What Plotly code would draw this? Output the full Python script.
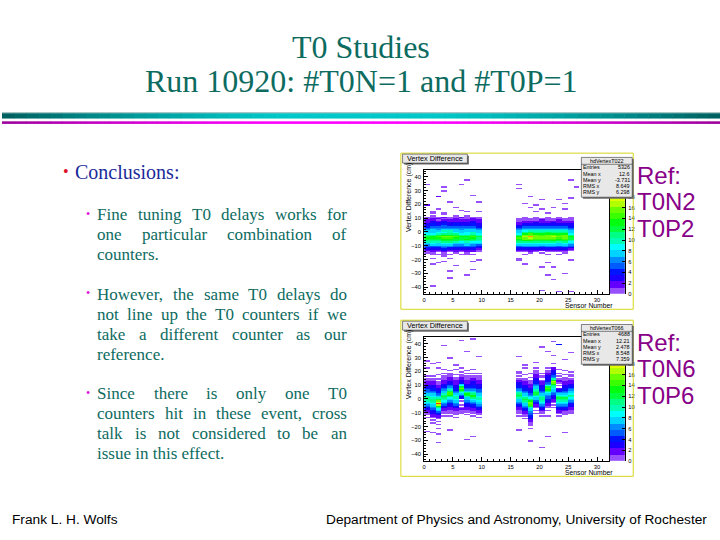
import colorsys
import numpy as np
import plotly.graph_objects as go

W, H = 720, 540

# ---------------- data ----------------
SENSOR_BINS = 32           # x axis: sensor number 0..32, one bin per sensor
Y_LO, Y_HI = -45, 45       # y axis: vertex difference, 1 cm bins
Z_MAX = 23                 # top of colour scale
N_LEVELS = 20              # ROOT colour contours
LEVEL_CODE = ".123456789abcdefghijklmn"   # '.'=0, '1'..'9', 'a'=10 ... 'n'=23

CORE_SENSORS = [0, 1, 2, 3, 4, 5, 6, 7, 8, 9, 16, 17, 18, 19, 20, 21, 22, 23, 24, 25]

# Ref T0N2/T0P2 : per-sensor column, rows from y=12 cm downward (1 cm per char)
T022_CORE_TOP = 12
T022_CORE = [
    "..112223" "3456789b" "cdcba865" "43211...",
    ".1122334" "4567889b" "ddcba975" "432211..",
    "..121233" "456689ac" "edcba875" "4321.1..",
    "1.212334" "5567a9bd" "fedcb976" "5432111.",
    "..112233" "4567aabd" "gedcb976" "4321.1..",
    ".1122234" "456789bc" "edcca865" "43221...",
    "..212233" "4566789b" "dccb9865" "4321.1..",
    ".1112233" "4567899b" "dcdba875" "432211..",
    "..122334" "45678aac" "edcb9865" "4322.1..",
    "..112223" "3456789a" "cbba9754" "3211....",
    "...11122" "3456789b" "dedcb975" "4321....",
    "..111223" "45679bdf" "hgfdb976" "4321.1..",
    "...11223" "4568acef" "khfdb976" "43221...",
    "..111233" "4568abdf" "gfecb986" "4321....",
    "...12223" "4567abde" "gfecb975" "432.1...",
    "..111223" "4567acdf" "ggecb976" "4321.1..",
    "...11233" "4568abdf" "hfedb986" "4321....",
    "..112223" "4567abde" "fedca875" "4321.1..",
    "...11223" "4567abdf" "gfecb976" "43211...",
    "..111223" "3456789b" "dcca9865" "321.....",
]
T022_SP_SENSOR = [0, 0, 1, 1, 1, 1, 2, 2, 3, 3, 3, 4, 4, 5, 5, 6, 7, 7, 7, 8, 8, 8, 9, 4, 1, 3, 6, 9, 4, 9, 2,
                  16, 16, 25, 18, 17, 20, 23, 25, 22, 24, 18, 20, 19, 21, 16, 21, 17, 20, 22, 21, 22, 24, 20, 23,
                  25, 19, 24, 16, 25, 26]
T022_SP_Y = [34, 19, 14, -20, -24, -40, 25, 16, 32, 29, -22, -29, -34, 17, -25, 34, 37, 14, -32, 26, -22, -28,
             21, 21, 13, 13, 15, 14, -20, -21, -23,
             34, 31, 37, 25, 20, 23, 23, 24, 17, 16, 17, 16, 14, 13, -21, -23, -24, -26, -26, -32, -35, -31,
             -43, -44, -44, 19, 20, -20, -21, 32]
T022_SP_N = [1, 2, 1, 1, 1, 1, 2, 1, 1, 1, 1, 1, 1, 1, 1, 1, 1, 1, 1, 1, 1, 1, 1, 1, 1, 1, 1, 1, 1, 1, 1,
             1, 1, 1, 1, 1, 1, 1, 1, 1, 1, 1, 1, 1, 1, 1, 1, 1, 1, 1, 1, 1, 1, 1, 1, 1, 1, 1, 1, 1, 1]

# Ref T0N6/T0P6 : rows from y=22 cm downward
T066_CORE_TOP = 22
T066_CORE = [
    "1.....1.112" "2233455678a" "bba97654322" "11.1.......",
    "......1.112" "22334456789" "abba9876543" "3221.1.1...",
    "1....1..1.1" "11223344568" "acfimhdb975" "43221.1.1..",
    ".1..1.11122" "23345678abc" "ba976543221" "1.1........",
    "..1.1112223" "34568aceedb" "97654332211" "1.1........",
    ".1...1.1122" "2233445679a" "a9876543221" "11.1.......",
    "1..1.112233" "479cfdb9754" "3.1..1.1211" "1..........",
    "..1.1.11122" "2334568bdca" "87654332211" ".1.........",
    ".1..1.11223" "3344567abdd" "b9865433221" "1.1........",
    "....1.11122" "23334556789" "aa987654322" "11.1.......",
    "...11.1.122" "3344568abcb" "a8765432211" "1.1........",
    "1....1..112" "22334456789" "bcba8765432" "211.1......",
    "....1..1.11" "12223344567" "9bdfgeca876" "5544322111.",
    "1.111222334" "45678abccb9" "87543221.1." "1..........",
    "....1.11.12" "2233445678a" "bba98654321" "1.1........",
    "1.112233344" "569cedb9765" "54332211.1." "..1........",
    "22334456adh" "fdba9876543" "3221.1.1..." "...........",
    ".1..1.1.122" "1.1.234689b" "cba98654322" "1.1........",
    "..1..1.1112" "2233445679a" "cba98654321" "11.........",
    "...1.11.122" "233456789ba" "98654332211" "1..........",
]
T066_SP_SENSOR = [3, 4, 2, 6, 8, 1, 0, 5, 9, 7, 2, 2, 2, 7, 1, 4, 8, 0,
                  20, 22, 23, 21, 22, 24, 17, 16, 25, 18, 20, 18, 16, 24, 21, 19, 22]
T066_SP_Y = [38, 29, 26, 42, 43, 25, 27, 24, 30, 34, -22, -26, -32, -30, -25, -23, -28, -24,
             37, 41, 39, 34, 31, 28, 24, 30, 33, -31, -36, -22, -23, -25, -28, 26, 25]
T066_SP_N = [1, 1, 1, 1, 1, 1, 1, 1, 1, 1, 1, 1, 1, 1, 1, 1, 1, 1,
             1, 1, 4, 1, 1, 1, 1, 1, 1, 1, 1, 1, 1, 1, 1, 1, 1]

X_TICKS = [0, 5, 10, 15, 20, 25, 30]
Y_TICKS = [-40, -30, -20, -10, 0, 10, 20, 30, 40]
Z_TICKS = [0, 2, 4, 6, 8, 10, 12, 14, 16, 18]

HIST_TITLE = "Vertex Difference"
X_TITLE = "Sensor Number"
Y_TITLE = "Vertex Difference (cm)"
STAT_LABELS = ["Entries", "Mean x", "Mean y", "RMS x", "RMS y"]
T022_NAME = "hdVertexT022"
T022_STATS = ["5326", "12.6", "-3.731", "8.649", "6.298"]
T066_NAME = "hdVertexT066"
T066_STATS = ["4688", "12.21", "2.478", "8.548", "7.359"]

TITLE_LINES = ["T0 Studies", "Run 10920: #T0N=1 and #T0P=1"]
MAIN_BULLET = "Conclusions:"
PARAGRAPHS = [
    ["Fine tuning T0 delays works for", "one particular combination of", "counters."],
    ["However, the same T0 delays do", "not line up the T0 counters if we",
     "take a different counter as our", "reference."],
    ["Since there is only one T0", "counters hit in these event, cross",
     "talk is not considered to be an", "issue in this effect."],
]
REF1 = ["Ref:", "T0N2", "T0P2"]
REF2 = ["Ref:", "T0N6", "T0P6"]
FOOT_LEFT = "Frank L. H. Wolfs"
FOOT_RIGHT = "Department of Physics and Astronomy, University of Rochester"

# ---------------- helpers ----------------
SERIF = "Liberation Serif, Times New Roman, serif"
SANS = "Liberation Sans, Arial, Helvetica, sans-serif"
TEAL = "#0d6b5f"
NY = Y_HI - Y_LO
LEFT_FIX = -2.5     # left-anchored text box starts a little right of its anchor


def fx(x):
    return x / W


def fy(y):
    return 1 - y / H


def decode(ch):
    return LEVEL_CODE.index(ch)


def build_z(core_top, core, sp_s, sp_y, sp_n):
    z = np.full((NY, SENSOR_BINS), np.nan)
    n = max(len(c) for c in core)
    for sensor, col in zip(CORE_SENSORS, core):
        col = col.ljust(n, ".")
        for k, ch in enumerate(col):
            v = decode(ch)
            if v > 0:
                z[core_top - k - Y_LO, sensor] = v
    for s, y, c in zip(sp_s, sp_y, sp_n):
        iy = y - Y_LO
        z[iy, s] = (0 if np.isnan(z[iy, s]) else z[iy, s]) + c
    return z


def root_colorscale():
    cs = []
    for i in range(N_LEVELS):
        j = int(i * 50 / N_LEVELS + 0.01)
        hue = 280 - (j + 1) * 5.6
        r, g, b = colorsys.hls_to_rgb(hue / 360.0, 0.5, 1.0)
        c = "rgb(%d,%d,%d)" % (round(r * 255), round(g * 255), round(b * 255))
        if i == 0:
            c = "rgb(152,80,255)"
        cs.append([i / N_LEVELS, c])
        cs.append([(i + 1) / N_LEVELS, c])
    return cs


CS = root_colorscale()

TIMES_W = {' ': 250, 'a': 444, 'b': 500, 'c': 444, 'd': 500, 'e': 444, 'f': 333, 'g': 500, 'h': 500,
           'i': 278, 'j': 278, 'k': 500, 'l': 278, 'm': 778, 'n': 500, 'o': 500, 'p': 500, 'q': 500,
           'r': 333, 's': 389, 't': 278, 'u': 500, 'v': 500, 'w': 722, 'x': 500, 'y': 500, 'z': 444,
           'F': 556, 'H': 722, 'S': 556, 'T': 611, 'I': 333, '0': 500, ',': 250, '.': 250, ':': 278}


def tw(s, size):
    return sum(TIMES_W.get(c, 500) for c in s) * size / 1000.0


annotations = []
shapes = []


def ann(x, y, text, size, color="black", family=SANS, xanchor="center", yanchor="middle", angle=0):
    if xanchor == "left":
        x = x + LEFT_FIX
    annotations.append(dict(x=fx(x), y=fy(y), xref="paper", yref="paper", text=text, showarrow=False,
                            xanchor=xanchor, yanchor=yanchor, textangle=angle, borderpad=0,
                            font=dict(family=family, size=size, color=color)))


def rect(x0, y0, x1, y1, fill=None, line=None, lw=0, layer="above"):
    shapes.append(dict(type="rect", xref="paper", yref="paper", x0=fx(x0), x1=fx(x1), y0=fy(y1), y1=fy(y0),
                       fillcolor=fill if fill else "rgba(0,0,0,0)",
                       line=dict(color=line if line else "rgba(0,0,0,0)", width=lw), layer=layer))


def hline(x0, x1, y, color, lw):
    shapes.append(dict(type="line", xref="paper", yref="paper", x0=fx(x0), x1=fx(x1), y0=fy(y), y1=fy(y),
                       line=dict(color=color, width=lw), layer="above"))


fig = go.Figure()

# ---------------- histograms ----------------
XC = [i + 0.5 for i in range(SENSOR_BINS)]
YC = [Y_LO + 0.5 + i for i in range(NY)]
LEV_W = Z_MAX / N_LEVELS

panels = [
    (0, T022_CORE_TOP, T022_CORE, T022_SP_SENSOR, T022_SP_Y, T022_SP_N, T022_NAME, T022_STATS),
    (168, T066_CORE_TOP, T066_CORE, T066_SP_SENSOR, T066_SP_Y, T066_SP_N, T066_NAME, T066_STATS),
]

layout_axes = {}
tickfont = dict(family=SANS, size=5.8, color="black")
for p, (dy, top, core, ss, sy, sn, name, stats) in enumerate(panels):
    z = build_z(top, core, ss, sy, sn)
    xa = "x%d" % (2 * p + 1) if p else "x"
    ya = "y%d" % (2 * p + 1) if p else "y"
    xc = "x%d" % (2 * p + 2)
    yc = "y%d" % (2 * p + 2)
    fig.add_trace(go.Heatmap(x=XC, y=YC, z=z, zmin=0, zmax=Z_MAX, colorscale=CS, showscale=False,
                             hoverinfo="skip", xaxis=xa, yaxis=ya))
    # palette drawn as its own little heatmap
    lev_c = [(i + 0.5) * LEV_W for i in range(N_LEVELS)]
    fig.add_trace(go.Heatmap(x=[0], y=lev_c, z=[[v] for v in lev_c], zmin=0, zmax=Z_MAX, colorscale=CS,
                             showscale=False, hoverinfo="skip", xaxis=xc, yaxis=yc))

    top_px, bot_px = 170.7 + dy, 295.7 + dy
    ydom = [fy(bot_px), fy(top_px)]
    kx = "xaxis" if p == 0 else "xaxis%d" % (2 * p + 1)
    ky = "yaxis" if p == 0 else "yaxis%d" % (2 * p + 1)
    kxc = "xaxis%d" % (2 * p + 2)
    kyc = "yaxis%d" % (2 * p + 2)
    layout_axes[kx] = dict(domain=[fx(423.3), fx(608.3)], range=[0, SENSOR_BINS], anchor=ya,
                           tickvals=X_TICKS, ticks="inside", ticklen=4, tickwidth=0.7, tickcolor="black",
                           minor=dict(ticks="inside", ticklen=2, dtick=1, tick0=0, tickcolor="black",
                                      tickwidth=0.6),
                           showline=True, linecolor="black", linewidth=0.8, mirror=True, showgrid=False,
                           zeroline=False, tickfont=tickfont, ticklabelstandoff=0)
    layout_axes[ky] = dict(domain=ydom, range=[Y_LO, Y_HI], anchor=xa, tickvals=Y_TICKS,
                           ticks="inside", ticklen=4, tickwidth=0.7, tickcolor="black",
                           minor=dict(ticks="inside", ticklen=2, dtick=2, tick0=0, tickcolor="black",
                                      tickwidth=0.6),
                           showline=True, linecolor="black", linewidth=0.8, mirror=True, showgrid=False,
                           zeroline=False, tickfont=tickfont, ticklabelstandoff=1)
    layout_axes[kxc] = dict(domain=[fx(609.5), fx(625.0)], range=[-0.5, 0.5], anchor=yc, visible=False)
    layout_axes[kyc] = dict(domain=ydom, range=[0, Z_MAX], anchor=xc, side="right", tickvals=Z_TICKS,
                            ticks="inside", ticklen=3, tickwidth=0.6, tickcolor="black",
                            showline=True, linecolor="black", linewidth=0.6, showgrid=False, zeroline=False,
                            tickfont=tickfont, ticklabelstandoff=1)

    # canvas frame
    rect(400, 154 + dy, 633, 311 + dy, line="#d6d61e", lw=1)
    # title pave
    rect(403.2, 156.5 + dy, 468.2, 165.5 + dy, fill="#6a6a6a")
    rect(401.7, 155 + dy, 466.7, 164 + dy, fill="#e8e8e8", line="#333333", lw=0.6)
    ann(434.2, 159.6 + dy, HIST_TITLE, 7.3)
    # stats box
    rect(582.5, 159.8 + dy, 633.5, 199.8 + dy, fill="#6a6a6a")
    rect(581, 158.3 + dy, 632, 198.3 + dy, fill="#e8e8e8", line="#333333", lw=0.6)
    hline(581, 632, 165.2 + dy, "#333333", 0.6)
    ann(606.5, 161.8 + dy, name, 5.4)
    for i, (lab, val) in enumerate(zip(STAT_LABELS, stats)):
        yy = 168.3 + dy + i * 6.3
        ann(584.5, yy, lab, 5.4, xanchor="left")
        ann(630.3, yy, val, 5.4, xanchor="right")
    # axis titles
    ann(613.5, 306.8 + dy, X_TITLE, 6.8, xanchor="right")
    ann(408.3, 198 + dy, Y_TITLE, 7, angle=-90)

# ---------------- slide text ----------------
ann(360, 47.5, TITLE_LINES[0], 32, color=TEAL, family=SERIF)
ann(360, 81, TITLE_LINES[1], 32, color=TEAL, family=SERIF)

# header rule (gradient bars)
N_STRIP = 60
for i in range(N_STRIP):
    x0 = i * W / N_STRIP
    x1 = (i + 1) * W / N_STRIP + 0.5
    t = abs((x0 + x1) / 2 - W / 2) / (W / 2)
    f = min(1.0, max(0.0, (t - 0.2) / 0.8)) ** 1.3
    teal = (0, int(200 - 105 * f), int(200 - 105 * f))
    mag = (int(255 - 100 * f), 0, int(255 - 100 * f))
    rect(x0, 113.8, x1, 119.2, fill="rgb(%d,%d,%d)" % teal)
    rect(x0, 122.0, x1, 124.6, fill="rgb(%d,%d,%d)" % mag)
hline(0, W, 113.4, "#6f9f9f", 0.8)

# bullets
ann(64, 172, "•", 16, color="#e0102a", family=SERIF)
ann(75, 173, MAIN_BULLET, 20, color="#1a2a9a", family=SERIF, xanchor="left")

LEFT, RIGHT, FS = 97.0, 347.0, 17
PARA_Y = [216, 296, 396]
LINE_H = 20
for para, y0 in zip(PARAGRAPHS, PARA_Y):
    ann(86.0, y0 - 1, "•", 12, color="#e010e0", family=SERIF)
    for li, line in enumerate(para):
        yy = y0 + li * LINE_H
        if li == len(para) - 1:
            ann(LEFT, yy, line, FS, color=TEAL, family=SERIF, xanchor="left")
            continue
        words = line.split(" ")
        widths = [tw(w, FS) for w in words]
        gap = (RIGHT - LEFT - sum(widths)) / (len(words) - 1)
        xx = LEFT
        for w, wd in zip(words, widths):
            ann(xx, yy, w, FS, color=TEAL, family=SERIF, xanchor="left")
            xx += wd + gap

for i, t in enumerate(REF1):
    ann(638, 176 + i * 27, t, 24, color="#880088", xanchor="left")
for i, t in enumerate(REF2):
    ann(638, 344 + i * 27, t, 24, color="#880088", xanchor="left")

ann(12, 522, FOOT_LEFT, 13.7, xanchor="left")
ann(708, 522, FOOT_RIGHT, 13.7, xanchor="right")

fig.update_layout(width=W, height=H, margin=dict(l=0, r=0, t=0, b=0), paper_bgcolor="white",
                  plot_bgcolor="white", showlegend=False, annotations=annotations, shapes=shapes,
                  **layout_axes)
fig.write_html("out.html", config={"displayModeBar": False},
               post_script="document.body.style.margin='0px';document.body.style.padding='0px';"
                           "document.body.style.overflow='hidden';")
